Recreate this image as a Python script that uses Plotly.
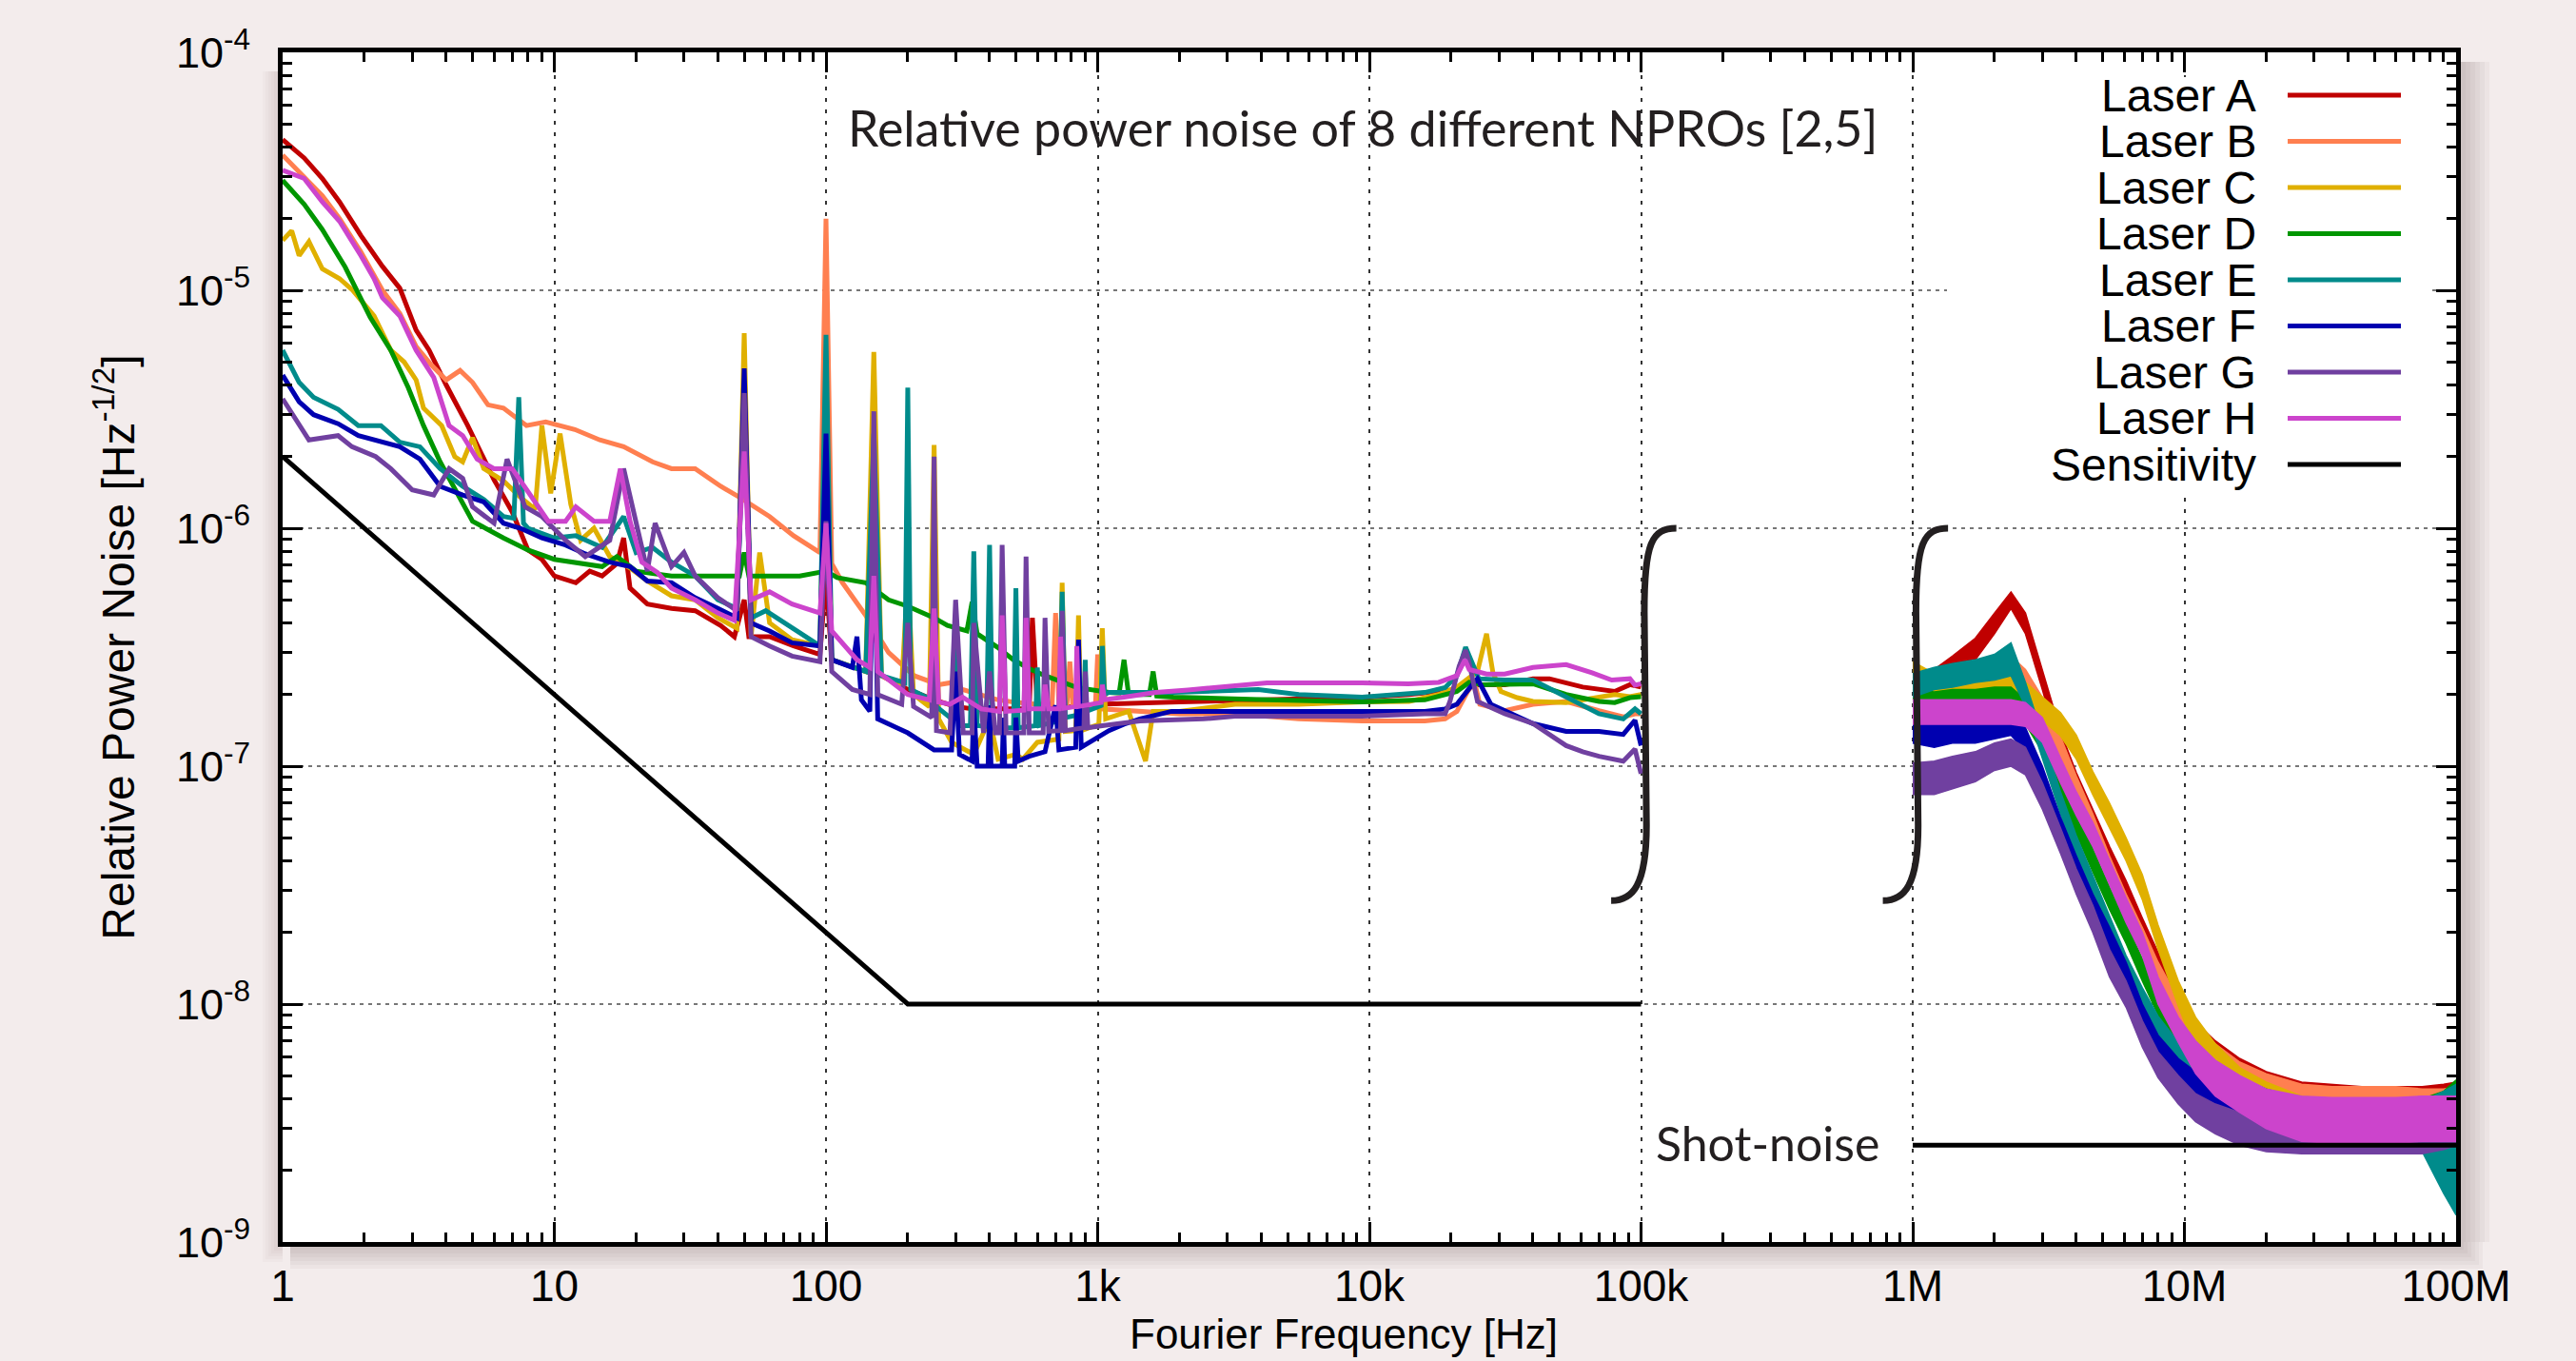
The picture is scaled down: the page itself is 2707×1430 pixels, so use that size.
import plotly.graph_objects as go

# ---------------- data ----------------
names = ["Laser A", "Laser B", "Laser C", "Laser D", "Laser E", "Laser F", "Laser G", "Laser H"]
colors = ["#c00000", "#ff7f50", "#e0b000", "#009600", "#008b8b", "#0000b0", "#7040a0", "#cc44cc"]

# low-frequency part (1 Hz .. 100 kHz): (frequency [Hz], RPN [1/sqrt(Hz)])
lf_A = [(1,4.3e-5),(1.2,3.6e-5),(1.4,2.95e-5),(1.62,2.35e-5),(1.94,1.7e-5),(2.33,1.26e-5),(2.7,1.02e-5),(3.1,6.8e-6),
        (3.46,5.6e-6),(4,4.0e-6),(4.8,2.7e-6),(6,1.6e-6),(7,1.17e-6),(8,8.1e-7),(9,7.4e-7),(10,6.3e-7),(12,5.9e-7),
        (13.5,6.6e-7),(15,6.3e-7),(17,7.1e-7),(18,9.1e-7),(19,5.6e-7),(22,4.8e-7),(27,4.6e-7),(33,4.5e-7),(41,3.9e-7),
        (46,3.5e-7),(50,5.0e-7),(52,3.5e-7),(62,3.5e-7),(76,3.2e-7),(95,2.95e-7),(100,6.3e-7),(105,2.8e-7),(140,2.5e-7),
        (150,4.0e-7),(160,2.4e-7),(200,2.1e-7),(250,1.9e-7),(300,1.78e-7),(350,1.74e-7),(450,1.74e-7),(560,1.74e-7),
        (575,4.2e-7),(600,1.74e-7),(800,1.78e-7),(1000,1.82e-7),(2000,1.86e-7),(5000,1.9e-7),(10000,1.95e-7),
        (14000,2.0e-7),(21000,2.1e-7),(23300,2.33e-7),(25000,2.2e-7),(31500,2.2e-7),(40000,2.33e-7),(46000,2.33e-7),
        (61000,2.15e-7),(80000,2.06e-7),(91000,2.2e-7),(100000,2.15e-7)]
lf_B = [(1,3.7e-5),(1.2,3.0e-5),(1.4,2.5e-5),(1.62,2.0e-5),(1.94,1.45e-5),(2.33,1.0e-5),(2.7,8.0e-6),(3.1,5.8e-6),
        (3.5,4.9e-6),(4,4.2e-6),(4.5,4.6e-6),(5,4.1e-6),(5.7,3.3e-6),(6.5,3.2e-6),(7.9,2.7e-6),(9.3,2.8e-6),(11.9,2.6e-6),
        (14.7,2.35e-6),(18,2.2e-6),(23,1.9e-6),(27,1.78e-6),(33,1.78e-6),(41,1.5e-6),(48,1.35e-6),(62,1.12e-6),
        (76,9.3e-7),(95,7.9e-7),(100,2.0e-5),(105,7.1e-7),(115,5.9e-7),(140,4.3e-7),(170,3.0e-7),(211,2.4e-7),
        (260,2.2e-7),(286,2.24e-7),(318,2.1e-7),(373,2.0e-7),(430,1.9e-7),(489,1.86e-7),(600,1.82e-7),(680,1.82e-7),
        (700,4.4e-7),(720,1.82e-7),(770,1.8e-7),(790,2.75e-7),(810,1.78e-7),(980,1.76e-7),(1000,2.95e-7),(1030,1.74e-7),
        (2000,1.66e-7),(3200,1.66e-7),(5500,1.58e-7),(9400,1.55e-7),(16000,1.55e-7),(19000,1.58e-7),(21000,1.7e-7),
        (23000,2.06e-7),(24400,2.25e-7),(25500,1.82e-7),(31500,1.71e-7),(40000,1.82e-7),(53000,1.87e-7),
        (70000,1.71e-7),(86000,1.61e-7),(95000,1.66e-7),(100000,1.66e-7)]
lf_C = [(1,1.62e-5),(1.08,1.78e-5),(1.15,1.4e-5),(1.25,1.6e-5),(1.4,1.23e-5),(1.62,1.12e-5),(1.81,1.0e-5),(2.0,8.7e-6),
        (2.17,7.8e-6),(2.5,5.6e-6),(2.8,5.0e-6),(3.1,4.2e-6),(3.3,3.2e-6),(3.85,2.7e-6),(4.3,2.0e-6),(4.6,1.9e-6),
        (5,2.4e-6),(5.5,1.78e-6),(6.5,1.58e-6),(7.5,1.35e-6),(8.5,1.2e-6),(9,2.7e-6),(9.7,1.4e-6),(10.5,2.5e-6),
        (11.5,1.26e-6),(12.5,8.9e-7),(14,1.0e-6),(16,7.6e-7),(19,6.8e-7),(22,6.0e-7),(27,5.2e-7),(33,5.0e-7),
        (40,4.2e-7),(47,3.8e-7),(50,6.6e-6),(53,3.5e-7),(57,7.9e-7),(62,4.0e-7),(75,3.4e-7),(95,3.2e-7),(100,4.5e-6),
        (105,2.8e-7),(140,2.5e-7),(150,5.5e-6),(160,2.4e-7),(190,2.2e-7),(200,6.3e-7),(210,2.0e-7),(240,1.78e-7),
        (250,2.24e-6),(260,1.58e-7),(290,1.26e-7),(350,1.12e-7),(400,1.58e-7),(430,1.07e-7),(500,1.12e-7),
        (530,1.07e-7),(600,1.26e-7),(720,1.3e-7),(740,5.9e-7),(760,1.4e-7),(830,1.41e-7),(850,4.3e-7),(870,1.41e-7),
        (1010,1.5e-7),(1040,3.8e-7),(1070,1.58e-7),(1300,1.7e-7),(1500,1.05e-7),(1600,1.7e-7),(2000,1.7e-7),
        (3200,1.82e-7),(5500,1.82e-7),(9400,1.86e-7),(14000,1.87e-7),(18000,2.0e-7),(21000,2.15e-7),(25000,2.5e-7),
        (27000,3.6e-7),(28500,2.47e-7),(30500,2.06e-7),(35000,1.94e-7),(40000,1.87e-7),(53000,1.85e-7),
        (70000,1.96e-7),(80000,2.0e-7),(91000,1.96e-7),(100000,2.0e-7)]
lf_D = [(1,2.9e-5),(1.2,2.3e-5),(1.4,1.8e-5),(1.7,1.25e-5),(2.1,7.7e-6),(2.5,5.6e-6),(2.9,3.9e-6),(3.3,2.7e-6),
        (3.8,1.9e-6),(4.2,1.55e-6),(5,1.07e-6),(6.5,9.1e-7),(8,8.1e-7),(10,7.4e-7),(12,7.2e-7),(15,6.9e-7),(17,7.6e-7),
        (20,6.6e-7),(27,6.3e-7),(40,6.3e-7),(48,6.3e-7),(50,7.9e-7),(52,6.3e-7),(80,6.3e-7),(100,6.6e-7),(110,6.2e-7),
        (140,5.9e-7),(170,5.0e-7),(200,4.7e-7),(250,4.2e-7),(280,3.9e-7),(330,3.7e-7),(345,4.9e-7),(360,3.6e-7),
        (428,3.16e-7),(489,2.8e-7),(559,2.57e-7),(640,2.4e-7),(838,2.14e-7),(1100,2.04e-7),(1200,2.03e-7),
        (1250,2.8e-7),(1300,2.0e-7),(1550,2.0e-7),(1600,2.5e-7),(1650,1.97e-7),(1900,1.95e-7),(4200,1.9e-7),
        (9400,1.86e-7),(16000,1.9e-7),(21000,2.06e-7),(23300,2.25e-7),(26000,2.2e-7),(40000,2.22e-7),(53000,2.0e-7),
        (70000,1.87e-7),(80000,1.85e-7),(91000,1.94e-7),(100000,1.96e-7)]
lf_E = [(1,5.6e-6),(1.15,4.1e-6),(1.3,3.55e-6),(1.6,3.16e-6),(1.9,2.7e-6),(2.3,2.7e-6),(2.7,2.3e-6),(3.2,2.2e-6),
        (3.8,1.78e-6),(4.6,1.5e-6),(5.5,1.32e-6),(6.5,1.12e-6),(7.1,1.1e-6),(7.4,3.55e-6),(7.7,1.05e-6),(8,1.0e-6),
        (10,9.1e-7),(12,9.3e-7),(15,8.3e-7),(18,1.12e-6),(20,7.9e-7),(23,8.3e-7),(27,7.2e-7),(33,6.3e-7),(40,5.0e-7),
        (47,4.6e-7),(50,3.2e-6),(53,4.2e-7),(60,4.5e-7),(75,3.8e-7),(95,3.2e-7),(100,6.5e-6),(105,2.8e-7),(140,2.5e-7),
        (150,2.5e-6),(160,2.4e-7),(195,2.24e-7),(200,3.9e-6),(205,2.1e-7),(245,1.9e-7),(250,1.0e-6),(255,1.78e-7),
        (290,1.58e-7),(298,3.9e-7),(310,1.48e-7),(340,1.48e-7),(350,8.0e-7),(360,1.48e-7),(390,1.47e-7),(400,8.5e-7),
        (410,1.45e-7),(490,1.45e-7),(500,5.6e-7),(510,1.45e-7),(590,1.48e-7),(600,2.6e-7),(610,1.48e-7),(720,1.55e-7),
        (740,5.4e-7),(760,1.6e-7),(890,1.66e-7),(900,2.8e-7),(910,1.7e-7),(1030,1.8e-7),(1040,3.2e-7),(1060,2.0e-7),
        (1100,2.04e-7),(1900,2.04e-7),(3900,2.1e-7),(5500,2.0e-7),(9400,1.95e-7),(16000,2.04e-7),(19000,2.14e-7),
        (21000,2.4e-7),(22600,3.16e-7),(25300,2.33e-7),(31500,2.3e-7),(40000,2.3e-7),(53000,1.94e-7),(70000,1.66e-7),
        (86000,1.58e-7),(95000,1.74e-7),(100000,1.66e-7)]
lf_F = [(1,4.4e-6),(1.15,3.4e-6),(1.3,3.0e-6),(1.6,2.75e-6),(1.9,2.45e-6),(2.3,2.3e-6),(2.7,2.2e-6),(3.2,1.95e-6),
        (3.8,1.5e-6),(4.6,1.38e-6),(5.5,1.29e-6),(6.5,1.05e-6),(7.5,1.0e-6),(9,9.1e-7),(11,8.5e-7),(13,7.8e-7),
        (16,7.2e-7),(19,6.9e-7),(22,6.0e-7),(27,5.9e-7),(33,5.1e-7),(40,4.6e-7),(47,4.2e-7),(50,4.7e-6),(53,4.0e-7),
        (62,3.7e-7),(75,3.3e-7),(95,3.2e-7),(100,2.5e-6),(105,2.8e-7),(125,2.6e-7),(130,3.5e-7),(135,1.9e-7),
        (145,1.7e-7),(150,1.26e-6),(155,1.58e-7),(200,1.38e-7),(250,1.17e-7),(290,1.17e-7),(300,2.5e-7),(310,1.12e-7),
        (345,1.05e-7),(350,1.8e-7),(360,1.0e-7),(395,1.0e-7),(400,1.8e-7),(405,1.0e-7),(445,1.0e-7),(450,1.6e-7),
        (455,1.0e-7),(495,1.0e-7),(500,1.6e-7),(510,1.05e-7),(560,1.1e-7),(640,1.15e-7),(700,1.8e-7),(720,1.17e-7),
        (830,1.2e-7),(850,3.4e-7),(870,1.2e-7),(960,1.29e-7),(1100,1.41e-7),(1250,1.5e-7),(1430,1.58e-7),
        (1870,1.7e-7),(3200,1.7e-7),(5500,1.7e-7),(9400,1.7e-7),(16000,1.7e-7),(19000,1.74e-7),(21000,1.82e-7),
        (23300,2.12e-7),(25000,2.33e-7),(28000,1.82e-7),(31500,1.71e-7),(40000,1.51e-7),(53000,1.4e-7),
        (70000,1.4e-7),(86000,1.36e-7),(95000,1.56e-7),(100000,1.22e-7)]
lf_G = [(1,3.5e-6),(1.15,2.7e-6),(1.25,2.35e-6),(1.6,2.45e-6),(1.8,2.2e-6),(2.2,2.0e-6),(2.5,1.78e-6),(3,1.45e-6),
        (3.6,1.38e-6),(4.1,1.78e-6),(4.6,1.62e-6),(5,1.23e-6),(6,1.05e-6),(6.7,1.95e-6),(7.8,1.23e-6),(9,1.12e-6),
        (11,8.9e-7),(13,7.6e-7),(16,8.9e-7),(18,1.78e-6),(20,1.05e-6),(22,6.6e-7),(23.5,1.05e-6),(27,6.9e-7),
        (30,7.9e-7),(33,6.3e-7),(40,5.1e-7),(47,4.5e-7),(50,3.7e-6),(53,3.5e-7),(62,3.2e-7),(75,2.9e-7),(95,2.75e-7),
        (100,1.07e-6),(105,2.5e-7),(125,2.1e-7),(145,2.0e-7),(150,3.1e-6),(155,2.0e-7),(190,1.82e-7),(200,4.0e-7),
        (210,1.78e-7),(245,1.6e-7),(250,2.0e-6),(255,1.41e-7),(286,1.38e-7),(300,5.0e-7),(320,1.38e-7),(345,1.38e-7),
        (350,4.0e-7),(380,1.38e-7),(400,2.5e-7),(420,1.38e-7),(435,1.38e-7),(445,8.5e-7),(460,1.38e-7),(535,1.38e-7),
        (545,7.6e-7),(560,1.38e-7),(630,1.38e-7),(640,4.2e-7),(660,1.4e-7),(730,1.41e-7),(740,4.5e-7),(760,1.41e-7),
        (890,1.45e-7),(900,2.5e-7),(920,1.45e-7),(1040,1.48e-7),(1430,1.55e-7),(2450,1.58e-7),(3200,1.62e-7),
        (5500,1.62e-7),(9400,1.62e-7),(16000,1.66e-7),(19000,1.66e-7),(19800,1.87e-7),(21400,2.63e-7),
        (22600,3.07e-7),(23300,2.71e-7),(25000,1.87e-7),(31500,1.66e-7),(40000,1.51e-7),(53000,1.22e-7),
        (61000,1.15e-7),(70000,1.1e-7),(86000,1.05e-7),(95000,1.18e-7),(100000,9.3e-8)]
lf_H = [(1,3.2e-5),(1.2,2.95e-5),(1.4,2.35e-5),(1.62,1.95e-5),(1.94,1.4e-5),(2.17,1.12e-5),(2.33,9.3e-6),(2.7,7.8e-6),
        (3.1,5.6e-6),(3.6,4.3e-6),(4.1,2.7e-6),(4.6,2.45e-6),(5.2,1.95e-6),(6,1.78e-6),(7,1.78e-6),(8.2,1.38e-6),
        (9.5,1.07e-6),(11,1.07e-6),(12,1.23e-6),(14,1.07e-6),(16,1.07e-6),(17.5,1.78e-6),(19,1.07e-6),(21,7.2e-7),
        (24,6.5e-7),(27,5.6e-7),(33,5.0e-7),(40,4.4e-7),(46,4.1e-7),(50,2.1e-6),(53,5.0e-7),(62,5.4e-7),(75,4.8e-7),
        (95,4.4e-7),(100,1.05e-6),(105,3.7e-7),(130,2.8e-7),(145,2.6e-7),(150,6.3e-7),(155,2.5e-7),(200,2.0e-7),
        (240,1.9e-7),(250,4.6e-7),(260,1.86e-7),(286,1.82e-7),(318,1.95e-7),(373,1.74e-7),(435,1.7e-7),(445,4.3e-7),
        (460,1.7e-7),(535,1.72e-7),(545,4.2e-7),(560,1.74e-7),(630,1.74e-7),(640,2.2e-7),(660,1.74e-7),(720,1.74e-7),
        (730,3.5e-7),(750,1.75e-7),(830,1.78e-7),(838,3.2e-7),(850,1.78e-7),(1030,1.85e-7),(1040,2.2e-7),
        (1060,1.9e-7),(1250,1.95e-7),(1640,2.04e-7),(2150,2.09e-7),(3200,2.19e-7),(4200,2.24e-7),(9400,2.24e-7),
        (13900,2.22e-7),(18000,2.25e-7),(21000,2.4e-7),(22500,2.8e-7),(23300,2.55e-7),(27000,2.44e-7),
        (31500,2.44e-7),(40000,2.6e-7),(53000,2.67e-7),(66000,2.47e-7),(78000,2.3e-7),(91000,2.33e-7),
        (95000,2.19e-7),(100000,2.22e-7)]

# high-frequency part (1 MHz .. 100 MHz): noisy band, upper and lower edge
hf_f = [1.0e6, 1.2e6, 1.4e6, 1.7e6, 2.0e6, 2.3e6, 2.6e6, 3.0e6, 3.5e6, 4.0e6, 4.6e6, 5.3e6, 6.1e6, 7.0e6,
        8.0e6, 9.5e6, 11e6, 13e6, 16e6, 20e6, 27e6, 35e6, 45e6, 60e6, 75e6, 90e6, 100e6]
hf_A_hi = [2.3e-7,2.55e-7,2.9e-7,3.45e-7,4.4e-7,5.4e-7,4.4e-7,2.55e-7,1.4e-7,9.4e-8,6.6e-8,4.6e-8,3.3e-8,2.3e-8,
           1.65e-8,1.1e-8,8.4e-9,7.0e-9,5.9e-9,5.2e-9,4.7e-9,4.6e-9,4.5e-9,4.5e-9,4.5e-9,4.6e-9,4.7e-9]
hf_A_lo = [1.9e-7,2.1e-7,2.35e-7,2.8e-7,3.6e-7,4.6e-7,3.6e-7,2.1e-7,1.13e-7,7.7e-8,5.4e-8,3.8e-8,2.7e-8,1.9e-8,
           1.35e-8,9.0e-9,6.4e-9,5.0e-9,4.1e-9,3.6e-9,3.3e-9,3.2e-9,3.1e-9,3.1e-9,3.1e-9,3.2e-9,3.3e-9]
hf_B_hi = [2.35e-7,2.45e-7,2.55e-7,2.7e-7,2.8e-7,2.9e-7,2.55e-7,1.95e-7,1.33e-7,9.1e-8,6.3e-8,4.2e-8,2.9e-8,2.1e-8,
           1.5e-8,1.05e-8,8.4e-9,6.8e-9,5.7e-9,5.1e-9,4.6e-9,4.5e-9,4.5e-9,4.5e-9,4.4e-9,4.4e-9,4.5e-9]
hf_B_lo = [1.9e-7,2.0e-7,2.05e-7,2.15e-7,2.25e-7,2.35e-7,2.05e-7,1.58e-7,1.08e-7,7.4e-8,5.1e-8,3.4e-8,2.35e-8,1.7e-8,
           1.2e-8,8.5e-9,6.1e-9,4.9e-9,4.0e-9,3.6e-9,3.2e-9,3.1e-9,3.1e-9,3.1e-9,3.1e-9,3.1e-9,3.2e-9]
hf_C_hi = [2.75e-7,2.45e-7,2.45e-7,2.45e-7,2.45e-7,2.45e-7,2.25e-7,1.95e-7,1.68e-7,1.35e-7,9.5e-8,7.0e-8,5.0e-8,3.5e-8,
           2.15e-8,1.25e-8,8.8e-9,6.8e-9,5.4e-9,4.7e-9,4.1e-9,4.0e-9,4.0e-9,4.0e-9,4.0e-9,4.0e-9,4.1e-9]
hf_C_lo = [2.1e-7,1.95e-7,1.95e-7,1.95e-7,1.95e-7,1.95e-7,1.78e-7,1.56e-7,1.34e-7,1.07e-7,7.6e-8,5.5e-8,4.0e-8,2.75e-8,
           1.7e-8,9.8e-9,6.4e-9,4.9e-9,3.9e-9,3.4e-9,2.95e-9,2.85e-9,2.85e-9,2.85e-9,2.85e-9,2.85e-9,2.95e-9]
hf_D_hi = [2.1e-7,2.05e-7,2.1e-7,2.1e-7,2.15e-7,2.15e-7,1.9e-7,1.45e-7,9.5e-8,6.5e-8,4.5e-8,3.1e-8,2.2e-8,1.55e-8,
           1.1e-8,8.0e-9,6.8e-9,5.7e-9,4.9e-9,4.4e-9,4.0e-9,3.9e-9,3.9e-9,3.9e-9,4.0e-9,4.3e-9,4.8e-9]
hf_D_lo = [1.6e-7,1.6e-7,1.65e-7,1.65e-7,1.7e-7,1.7e-7,1.5e-7,1.15e-7,7.6e-8,5.2e-8,3.6e-8,2.5e-8,1.8e-8,1.25e-8,
           9.0e-9,6.4e-9,4.9e-9,4.0e-9,3.4e-9,3.1e-9,2.85e-9,2.75e-9,2.75e-9,2.75e-9,2.6e-9,2.5e-9,2.6e-9]
hf_E_hi = [2.45e-7,2.6e-7,2.7e-7,2.8e-7,2.95e-7,3.3e-7,2.25e-7,1.35e-7,7.8e-8,5.1e-8,3.45e-8,2.35e-8,1.6e-8,1.17e-8,
           8.9e-9,6.9e-9,6.0e-9,5.3e-9,4.6e-9,4.1e-9,3.9e-9,3.8e-9,3.8e-9,3.8e-9,3.9e-9,4.3e-9,4.6e-9]
hf_E_lo = [1.95e-7,2.1e-7,2.15e-7,2.25e-7,2.3e-7,2.4e-7,1.78e-7,1.07e-7,6.3e-8,4.1e-8,2.8e-8,1.9e-8,1.3e-8,9.4e-9,
           7.1e-9,5.5e-9,4.5e-9,3.8e-9,3.3e-9,3.0e-9,2.8e-9,2.7e-9,2.7e-9,2.6e-9,2.4e-9,1.6e-9,1.3e-9]
hf_F_hi = [1.6e-7,1.55e-7,1.6e-7,1.6e-7,1.65e-7,1.7e-7,1.45e-7,1.0e-7,6.1e-8,4.2e-8,2.9e-8,2.1e-8,1.5e-8,1.0e-8,
           7.4e-9,5.9e-9,5.2e-9,4.6e-9,4.1e-9,3.7e-9,3.5e-9,3.5e-9,3.5e-9,3.5e-9,3.5e-9,3.6e-9,3.8e-9]
hf_F_lo = [1.25e-7,1.2e-7,1.25e-7,1.25e-7,1.3e-7,1.35e-7,1.15e-7,8.0e-8,4.9e-8,3.4e-8,2.3e-8,1.7e-8,1.2e-8,8.0e-9,
           5.8e-9,4.5e-9,3.8e-9,3.4e-9,3.0e-9,2.7e-9,2.5e-9,2.5e-9,2.5e-9,2.5e-9,2.5e-9,2.6e-9,2.7e-9]
hf_G_hi = [1.03e-7,1.05e-7,1.1e-7,1.15e-7,1.25e-7,1.3e-7,1.2e-7,8.5e-8,5.5e-8,3.7e-8,2.6e-8,1.7e-8,1.25e-8,8.5e-9,
           6.3e-9,5.0e-9,4.2e-9,3.8e-9,3.5e-9,3.35e-9,3.3e-9,3.3e-9,3.3e-9,3.3e-9,3.3e-9,3.4e-9,3.5e-9]
hf_G_lo = [7.6e-8,7.6e-8,8.0e-8,8.6e-8,9.6e-8,1.0e-7,9.2e-8,6.6e-8,4.3e-8,2.9e-8,2.0e-8,1.3e-8,9.7e-9,6.6e-9,
           4.9e-9,3.8e-9,3.2e-9,2.85e-9,2.55e-9,2.4e-9,2.35e-9,2.35e-9,2.35e-9,2.35e-9,2.35e-9,2.45e-9,2.55e-9]
hf_H_hi = [1.9e-7,1.9e-7,1.9e-7,1.9e-7,1.9e-7,1.9e-7,1.85e-7,1.6e-7,1.08e-7,7.8e-8,5.8e-8,4.0e-8,2.8e-8,2.0e-8,
           1.3e-8,8.8e-9,7.0e-9,5.8e-9,5.0e-9,4.4e-9,4.1e-9,4.05e-9,4.05e-9,4.05e-9,4.1e-9,4.1e-9,4.1e-9]
hf_H_lo = [1.5e-7,1.5e-7,1.5e-7,1.5e-7,1.5e-7,1.5e-7,1.47e-7,1.26e-7,8.5e-8,6.2e-8,4.6e-8,3.2e-8,2.2e-8,1.6e-8,
           1.0e-8,6.9e-9,5.1e-9,4.1e-9,3.5e-9,3.0e-9,2.65e-9,2.6e-9,2.6e-9,2.6e-9,2.65e-9,2.65e-9,2.65e-9]

# measurement sensitivity (electronics) and shot-noise level
sens_f = [1, 200, 1e5, None, 1e6, 1e8]
sens_v = [2e-6, 1e-8, 1e-8, None, 2.55e-9, 2.55e-9]

x_tickvals = [1, 10, 100, 1e3, 1e4, 1e5, 1e6, 1e7, 1e8]
x_ticktext = ["1", "10", "100", "1k", "10k", "100k", "1M", "10M", "100M"]
y_tickvals = [1e-9, 1e-8, 1e-7, 1e-6, 1e-5, 1e-4]
y_ticktext = ["10<sup>-9</sup>", "10<sup>-8</sup>", "10<sup>-7</sup>", "10<sup>-6</sup>",
              "10<sup>-5</sup>", "10<sup>-4</sup>"]

lf_sets = [lf_A, lf_B, lf_C, lf_D, lf_E, lf_F, lf_G, lf_H]
hf_hi = [hf_A_hi, hf_B_hi, hf_C_hi, hf_D_hi, hf_E_hi, hf_F_hi, hf_G_hi, hf_H_hi]
hf_lo = [hf_A_lo, hf_B_lo, hf_C_lo, hf_D_lo, hf_E_lo, hf_F_lo, hf_G_lo, hf_H_lo]

# ---------------- layout geometry ----------------
W, H = 2707, 1430
L, R, T, B = 297, 2581, 55, 1305
def px(x):
    return (x - L) / (R - L)
def py(y):
    return (B - y) / (B - T)

SANS = "Liberation Sans, Arial, Helvetica, sans-serif"
HUMAN = "Lato, Open Sans, sans-serif"
INK = "#231f20"

fig = go.Figure()
for name, col, lf, hi, lo in zip(names, colors, lf_sets, hf_hi, hf_lo):
    fx = [p[0] for p in lf]
    fv = [p[1] for p in lf]
    fig.add_trace(go.Scatter(x=fx, y=fv, mode="lines", name=name, legendgroup=name,
                             line=dict(color=col, width=5), showlegend=False))
    fig.add_trace(go.Scatter(x=hf_f + hf_f[::-1], y=hi + lo[::-1], mode="lines", name=name,
                             legendgroup=name, fill="toself", fillcolor=col,
                             line=dict(color=col, width=1.5), showlegend=False))
fig.add_trace(go.Scatter(x=sens_f, y=sens_v, mode="lines", name="Sensitivity",
                         line=dict(color="black", width=5), connectgaps=False, showlegend=False))

x_minor = [m * 10 ** d for d in range(0, 8) for m in range(2, 10)]
y_minor = [m * 10.0 ** d for d in range(-9, -4) for m in range(2, 10)]

fig.update_xaxes(type="log", range=[0, 8], tickmode="array", tickvals=x_tickvals, ticktext=x_ticktext,
                 showline=True, linewidth=5, linecolor="black", mirror="ticks",
                 ticks="inside", ticklen=21, tickwidth=3, tickcolor="black",
                 showgrid=True, gridcolor="#333333", gridwidth=1.5, griddash="4px,8px",
                 minor=dict(tickmode="array", tickvals=x_minor, ticks="inside", ticklen=10,
                            tickwidth=3, tickcolor="black", showgrid=False),
                 tickfont=dict(family=SANS, size=46, color="black"), ticklabelstandoff=2,
                 zeroline=False)
fig.update_yaxes(type="log", range=[-9, -4], tickmode="array", tickvals=y_tickvals, ticktext=y_ticktext,
                 showline=True, linewidth=5, linecolor="black", mirror="ticks",
                 ticks="inside", ticklen=21, tickwidth=3, tickcolor="black",
                 showgrid=True, gridcolor="#777777", gridwidth=1.5, griddash="4px,5px",
                 minor=dict(tickmode="array", tickvals=y_minor, ticks="inside", ticklen=10,
                            tickwidth=3, tickcolor="black", showgrid=False),
                 tickfont=dict(family=SANS, size=45, color="black"), ticklabelstandoff=20,
                 title=dict(text="Relative Power Noise [Hz<sup>-1/2</sup>]",
                            font=dict(family=SANS, size=48, color="black"), standoff=30),
                 zeroline=False)

shapes = []
# soft drop shadow strips just outside the plot frame
for k in range(1, 8):
    a = 0.04
    shapes.append(dict(type="rect", xref="paper", yref="paper", layer="below",
                       x0=px(L + 8), x1=px(R + 4 * k), y0=py(B + 4 * k), y1=py(B),
                       line=dict(width=0), fillcolor="rgba(80,50,50,%.3f)" % a))
    shapes.append(dict(type="rect", xref="paper", yref="paper", layer="below",
                       x0=px(R), x1=px(R + 5 * k), y0=py(B), y1=py(T + 10),
                       line=dict(width=0), fillcolor="rgba(80,50,50,%.3f)" % a))
    shapes.append(dict(type="rect", xref="paper", yref="paper", layer="below",
                       x0=px(L - 3 * k), x1=px(L), y0=py(B + 3 * k), y1=py(T + 20),
                       line=dict(width=0), fillcolor="rgba(80,50,50,%.3f)" % (a * 0.6)))
# white panel hiding the grid behind the key
shapes.append(dict(type="rect", xref="paper", yref="paper", layer="above",
                   x0=px(2046), x1=px(R - 26), y0=py(518), y1=py(T + 26),
                   line=dict(width=0), fillcolor="white"))

# axis-break braces at 100 kHz and 1 MHz (drawn in log-decade offsets around the grid line)
def brace(logf):
    def X(d):
        return 10 ** (logf + d)
    def Y(e):
        return 10 ** e
    return ("M {} {} C {} {} {} {} {} {} L {} {} C {} {} {} {} {} {}".format(
        X(0.13), Y(-6.0), X(0.04), Y(-6.0), X(0.012), Y(-6.06), X(0.012), Y(-6.35),
        X(0.02), Y(-7.25), X(0.02), Y(-7.5), X(-0.03), Y(-7.565), X(-0.11), Y(-7.565)))
for lg in (5, 6):
    shapes.append(dict(type="path", xref="x", yref="y", path=brace(lg), layer="above",
                       line=dict(color=INK, width=7)))

annotations = []
# key: text right-aligned, line sample to its right
row_y = [100, 148.5, 197, 245.5, 294, 342.5, 391, 439.5, 488]
leg_names = names + ["Sensitivity"]
leg_cols = colors + ["black"]
for yy, nm, col in zip(row_y, leg_names, leg_cols):
    annotations.append(dict(xref="paper", yref="paper", x=px(2373), y=py(yy), xanchor="right", yanchor="middle",
                            text=nm, showarrow=False, font=dict(family=SANS, size=48, color="black")))
    shapes.append(dict(type="line", xref="paper", yref="paper", x0=px(2404), x1=px(2523), y0=py(yy), y1=py(yy),
                       line=dict(color=col, width=5), layer="above"))

annotations.append(dict(xref="paper", yref="paper", x=px(1432), y=py(134), xanchor="center", yanchor="middle",
                        text="Relative power noise of 8 different NPROs [2,5]", showarrow=False,
                        font=dict(family=HUMAN, size=52, color=INK)))
annotations.append(dict(xref="paper", yref="paper", x=px(1977), y=py(1201), xanchor="right", yanchor="middle",
                        text="Shot-noise", showarrow=False, font=dict(family=HUMAN, size=50, color=INK)))
# x-axis title
annotations.append(dict(xref="paper", yref="paper", x=px(1412), y=py(1402), xanchor="center", yanchor="middle",
                        text="Fourier Frequency [Hz]", showarrow=False,
                        font=dict(family=SANS, size=44, color="black")))

fig.update_layout(width=W, height=H, autosize=False,
                  margin=dict(l=L, r=W - R, t=T, b=H - B, pad=0),
                  paper_bgcolor="#f3ecec", plot_bgcolor="white",
                  showlegend=False, shapes=shapes, annotations=annotations)

fig.write_html("out.html", config={"displayModeBar": False},
               post_script="document.body.style.margin='0';document.body.style.background='#f3ecec';")
